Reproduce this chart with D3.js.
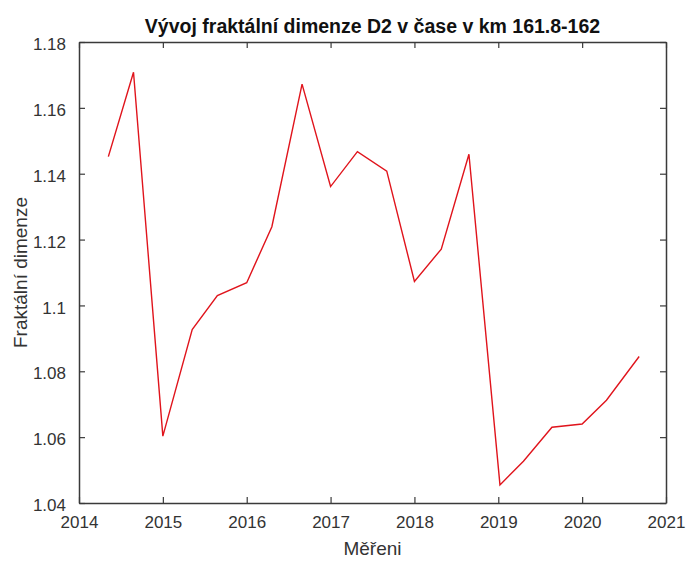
<!DOCTYPE html>
<html>
<head>
<meta charset="utf-8">
<script src="https://cdn.jsdelivr.net/npm/d3@7"></script>
<style>
  html, body { margin: 0; padding: 0; background: #ffffff; }
  svg { display: block; }
</style>
</head>
<body>
<svg id="chart" width="688" height="561"></svg>
<script>
// ---- data ----
const years = [2014.35, 2014.65, 2015.0, 2015.35, 2015.65, 2016.0, 2016.3, 2016.66,
               2017.0, 2017.32, 2017.67, 2018.0, 2018.32, 2018.65, 2019.02, 2019.3,
               2019.64, 2020.0, 2020.29, 2020.68];
const values = [1.1452, 1.1708, 1.0603, 1.0927, 1.1030, 1.1069, 1.1239, 1.1672,
                1.1361, 1.1467, 1.1408, 1.1073, 1.1171, 1.1459, 1.0455, 1.0527,
                1.0630, 1.0640, 1.0712, 1.0845];
const xTicks = [2014, 2015, 2016, 2017, 2018, 2019, 2020, 2021];
const yTicks = [1.04, 1.06, 1.08, 1.1, 1.12, 1.14, 1.16, 1.18];
const titleText = "Vývoj fraktální dimenze D2 v čase v km 161.8-162";
const xLabel = "Měřeni";
const yLabel = "Fraktální dimenze";

// ---- layout ----
const mLeft = 79, mRight = 666, mTop = 42, mBottom = 503;
const axisColor = "#3a3a3a";
const font = "'Liberation Sans', Arial, Helvetica, sans-serif";

const svg = d3.select("#chart");
const x = d3.scaleLinear().domain([2014, 2021]).range([mLeft, mRight]);
const y = d3.scaleLinear().domain([1.04, 1.18]).range([mBottom, mTop]);

const fmtY = v => String(+v.toFixed(2));

// bottom axis
const gx = svg.append("g").attr("transform", `translate(0,${mBottom})`)
  .call(d3.axisBottom(x).tickValues(xTicks).tickFormat(d3.format("d")).tickSizeInner(-6).tickSizeOuter(0).tickPadding(13));
// top axis (ticks only)
const gxt = svg.append("g").attr("transform", `translate(0,${mTop})`)
  .call(d3.axisTop(x).tickValues(xTicks).tickFormat("").tickSizeInner(-6).tickSizeOuter(0));
// left axis
const gy = svg.append("g").attr("transform", `translate(${mLeft},0)`)
  .call(d3.axisLeft(y).tickValues(yTicks).tickFormat(fmtY).tickSizeInner(-6).tickSizeOuter(0).tickPadding(13));
// right axis (ticks only)
const gyr = svg.append("g").attr("transform", `translate(${mRight},0)`)
  .call(d3.axisRight(y).tickValues(yTicks).tickFormat("").tickSizeInner(-6).tickSizeOuter(0));

[gx, gxt, gy, gyr].forEach(g => {
  g.select(".domain").attr("stroke", axisColor).attr("stroke-width", 1.5);
  g.selectAll(".tick line").attr("stroke", axisColor).attr("stroke-width", 1.2);
  g.selectAll(".tick text").attr("fill", "#333").style("font-family", font).style("font-size", "17px");
});
gy.selectAll(".tick text").attr("dy", "0.45em");

// data line
const line = d3.line().x((d, i) => x(years[i])).y(d => y(d));
svg.append("path")
  .datum(values)
  .attr("d", line)
  .attr("fill", "none")
  .attr("stroke", "#e0141c")
  .attr("stroke-width", 1.4)
  .attr("stroke-linejoin", "miter");

// title
svg.append("text")
  .attr("x", (mLeft + mRight) / 2).attr("y", 33)
  .attr("text-anchor", "middle")
  .style("font-family", font).style("font-size", "19.5px").style("font-weight", "bold")
  .attr("fill", "#111")
  .text(titleText);

// x label
svg.append("text")
  .attr("x", (mLeft + mRight) / 2).attr("y", 555)
  .attr("text-anchor", "middle")
  .style("font-family", font).style("font-size", "19px")
  .attr("fill", "#333")
  .text(xLabel);

// y label
svg.append("text")
  .attr("transform", `translate(27,${(mTop + mBottom) / 2}) rotate(-90)`)
  .attr("text-anchor", "middle")
  .style("font-family", font).style("font-size", "19px")
  .attr("fill", "#333")
  .text(yLabel);
</script>
</body>
</html>
